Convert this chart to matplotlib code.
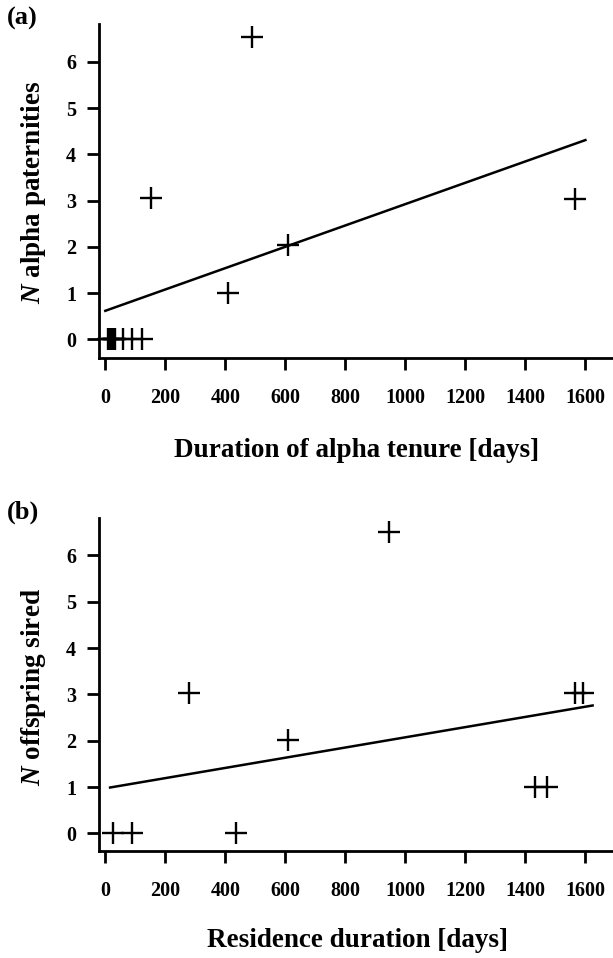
import matplotlib
matplotlib.use("Agg")
import matplotlib.pyplot as plt
import numpy as np

plt.rcParams['font.family'] = 'Liberation Serif'
plt.rcParams['font.weight'] = 'bold'
plt.rcParams['mathtext.fontset'] = 'custom'
plt.rcParams['mathtext.it'] = 'Liberation Serif:italic:bold'
plt.rcParams['mathtext.rm'] = 'Liberation Serif:bold'

# (a) alpha tenure vs alpha paternities
tenure_days = [490, 152, 408, 610, 1566, 10, 15, 20, 25, 29, 33, 60, 88, 121]
alpha_pat = [6.53, 3.05, 1.0, 2.05, 3.03, 0, 0, 0, 0, 0, 0, 0, 0, 0]
fit_a_x = [0, 1600]
fit_a_y = [0.62, 4.31]

# (b) residence duration vs offspring sired
residence_days = [945, 280, 610, 27, 88, 435, 1432, 1471, 1566, 1593]
offspring = [6.51, 3.04, 2.01, 0, 0, 0, 1.0, 1.0, 3.04, 3.04]
fit_b_x = [16, 1624]
fit_b_y = [0.99, 2.76]

xticks = [0, 200, 400, 600, 800, 1000, 1200, 1400, 1600]
yticks = [0, 1, 2, 3, 4, 5, 6]

fig = plt.figure(figsize=(6.13, 9.58), dpi=100)
ax_a = fig.add_axes([0.1615, 0.6263, 0.8385, 0.3487])
ax_b = fig.add_axes([0.1615, 0.1117, 0.8385, 0.3473])


def style(ax, xs, ys, fx, fy, ylim, xlabel, ylabel, xlab_y, ylab_y):
    ax.plot(xs, ys, linestyle='none', marker='+', markersize=16,
            markeredgewidth=1.7, color='black', clip_on=False)
    ax.plot(fx, fy, color='black', linewidth=1.8)
    ax.set_xlim(-21, 1692)
    ax.set_ylim(*ylim)
    ax.set_xticks(xticks)
    ax.set_yticks(yticks)
    for s in ['top', 'right']:
        ax.spines[s].set_visible(False)
    for s in ['left', 'bottom']:
        ax.spines[s].set_linewidth(2.0)
    ax.tick_params(axis='both', direction='out', length=8.5, width=2.0,
                   labelsize=14.5)
    ax.tick_params(axis='x', pad=13)
    ax.tick_params(axis='y', pad=8)
    ax.set_xlabel(xlabel, fontsize=19.5, fontweight='bold', va='center')
    ax.set_ylabel(ylabel, fontsize=19.5, fontweight='bold', va='center')
    ax.xaxis.set_label_coords(0.502, xlab_y)
    ax.yaxis.set_label_coords(-0.128, ylab_y)


style(ax_a, tenure_days, alpha_pat, fit_a_x, fit_a_y, (-0.4, 6.82),
      'Duration of alpha tenure [days]', r'$\mathit{N}$ alpha paternities',
      -0.278, 0.497)
style(ax_b, residence_days, offspring, fit_b_x, fit_b_y, (-0.38, 6.8),
      'Residence duration [days]', r'$\mathit{N}$ offspring sired',
      -0.2705, 0.493)

fig.text(0.011, 0.993, '(a)', fontsize=19, fontweight='bold', va='top')
fig.text(0.011, 0.477, '(b)', fontsize=19, fontweight='bold', va='top')

fig.savefig('out.png', dpi=100)
